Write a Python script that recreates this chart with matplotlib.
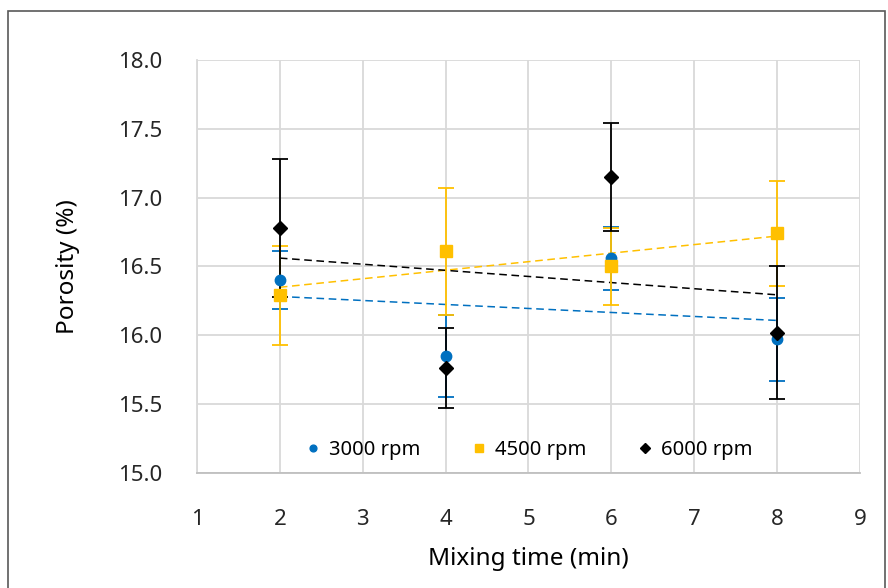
import numpy as np
import matplotlib.pyplot as plt
from matplotlib.lines import Line2D
from matplotlib.patches import Rectangle

plt.rcParams['font.family'] = ['Noto Sans', 'DejaVu Sans']

# mixing time (min)
mixing_time = [2, 4, 6, 8]

# porosity (%) and error bars for each speed
por_3000 = [16.40, 15.85, 16.56, 15.97]
err_3000 = [0.21, 0.30, 0.23, 0.30]
por_4500 = [16.29, 16.61, 16.50, 16.74]
err_4500 = [0.36, 0.46, 0.28, 0.38]
por_6000 = [16.78, 15.76, 17.15, 16.02]
err_6000 = [0.50, 0.29, 0.39, 0.48]

labels = ['3000 rpm', '4500 rpm', '6000 rpm']
colors = ['#0070C0', '#FFC000', '#000000']
markers = ['o', 's', 'D']
sizes = [7.5, 8, 7.5]

fig = plt.figure(figsize=(8.88, 5.88), dpi=100)
ax = fig.add_axes([0.2218, 0.1956, 0.7467, 0.7024])

series = [(por_3000, err_3000), (por_4500, err_4500), (por_6000, err_6000)]
x = np.array(mixing_time)
for (y, e), c, m, s in zip(series, colors, markers, sizes):
    ax.errorbar(x, y, yerr=e, fmt=m, color=c, ecolor=c, elinewidth=1.3,
                capsize=6, capthick=1.3, markersize=s, zorder=3)
    # linear trendline
    k, b = np.polyfit(x, y, 1)
    xt = np.array([x.min(), x.max()])
    ax.plot(xt, k * xt + b, linestyle=(0, (5, 3)), color=c, lw=1.1, zorder=2)

ax.set_xlim(1, 9)
ax.set_ylim(15.0, 18.0)
ax.set_xticks(range(1, 10))
yt = np.arange(15.0, 18.01, 0.5)
ax.set_yticks(yt)
ax.set_yticklabels([f'{v:.1f}' for v in yt])
ax.tick_params(axis='y', length=0, labelsize=16, colors='#262626', pad=25)
ax.tick_params(axis='x', length=0, labelsize=16, colors='#262626', pad=26)
ax.grid(True, color='#d9d9d9', lw=1.3)
ax.set_axisbelow(True)
for side in ['top', 'right']:
    ax.spines[side].set_visible(False)
ax.spines['left'].set_color('#d9d9d9')
ax.spines['bottom'].set_color('#bfbfbf')
ax.spines['left'].set_linewidth(1.3)
ax.spines['bottom'].set_linewidth(1.3)

ax.set_xlabel('Mixing time (min)', fontsize=17.5, fontweight='medium', labelpad=12)
ax.set_ylabel('Porosity (%)', fontsize=17.5, fontweight='medium', labelpad=27)

handles = [Line2D([], [], marker=m, color=c, linestyle='none', markersize=s * 0.65)
           for c, m, s in zip(colors, markers, sizes)]
ax.legend(handles, labels, loc='center', bbox_to_anchor=(0.5, 0.055), ncol=3,
          frameon=False, fontsize=14.5, handletextpad=0.4, columnspacing=2.5,
          handlelength=0.8, borderpad=0)

fig.patches.append(Rectangle((8 / 888, -0.01), 877 / 888, 1 - 11 / 588 + 0.01,
                             transform=fig.transFigure, fill=False,
                             edgecolor='#595959', lw=1.2))

fig.savefig('out.png', dpi=100)
